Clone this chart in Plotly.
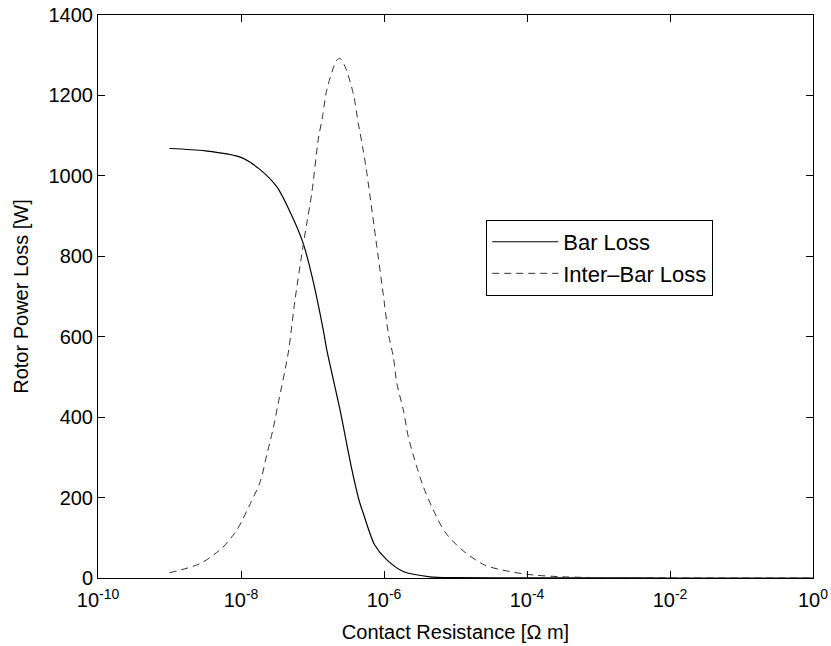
import plotly.graph_objects as go

# Bar loss readings: log10(contact resistance) and power loss [W]
bar_log_r = [-9.0, -8.5, -8.0, -7.75, -7.5, -7.3, -7.13, -7.0, -6.85, -6.8, -6.615,
             -6.45, -6.35, -6.29, -6.13, -5.96, -5.73, -5.36, -5.0, -4.0, -3.0, -2.0, -1.0, 0.0]
bar_loss = [1068, 1062, 1046, 1018, 973, 905, 832, 745, 617, 567, 418,
            270, 194, 161, 82, 45, 16, 3, 1, 0.3, 0.1, 0.05, 0.02, 0.01]

# Inter-bar loss readings
inter_log_r = [-9.0, -8.57, -8.27, -8.06, -7.87, -7.73, -7.64, -7.55, -7.48, -7.34, -7.245,
               -7.13, -7.08, -7.01, -6.92, -6.86, -6.80, -6.66, -6.615, -6.545, -6.43, -6.36,
               -6.30, -6.25, -6.12, -6.0, -5.94, -5.87, -5.82, -5.73, -5.66, -5.57, -5.45,
               -5.31, -5.15, -4.91, -4.59, -4.24, -3.91, -3.5, -3.0, -2.0, -1.0, 0.0]
inter_loss = [13, 36, 74, 119, 185, 240, 306, 372, 434, 559, 691,
              828, 882, 957, 1090, 1147, 1214, 1288, 1292, 1272, 1205, 1131,
              1073, 1019, 850, 691, 609, 550, 484, 418, 351, 293, 227,
              169, 115, 70, 32, 16, 7.5, 3, 1, 0.3, 0.1, 0.05]

x_tick_vals = [1e-10, 1e-8, 1e-6, 1e-4, 1e-2, 1e0]
x_tick_text = ["10<sup>-10</sup>", "10<sup>-8</sup>", "10<sup>-6</sup>",
               "10<sup>-4</sup>", "10<sup>-2</sup>", "10<sup>0</sup>"]
y_tick_vals = [0, 200, 400, 600, 800, 1000, 1200, 1400]

bar_x = [10 ** v for v in bar_log_r]
inter_x = [10 ** v for v in inter_log_r]

fig = go.Figure()
fig.add_trace(go.Scatter(x=bar_x, y=bar_loss, mode="lines", name="Bar Loss",
                         line=dict(color="black", width=1.2, shape="spline", smoothing=0.8)))
fig.add_trace(go.Scatter(x=inter_x, y=inter_loss, mode="lines", name="Inter\u2013Bar Loss",
                         line=dict(color="#333333", width=1, dash="7px,5px",
                                   shape="spline", smoothing=0.8)))

font_family = "Liberation Sans, Arial, sans-serif"
fig.update_layout(
    width=831, height=646,
    margin=dict(l=98, r=18, t=15, b=68),
    paper_bgcolor="white", plot_bgcolor="white",
    font=dict(family=font_family, size=20, color="black"),
    showlegend=True,
    legend=dict(x=0.543, y=0.636, xanchor="left", yanchor="top",
                bordercolor="black", borderwidth=1, bgcolor="white",
                font=dict(size=22), tracegroupgap=0, itemwidth=66),
    xaxis=dict(type="log", range=[-10, 0], tickvals=x_tick_vals, ticktext=x_tick_text,
               ticks="inside", ticklen=7, tickcolor="black", showline=True,
               linecolor="black", linewidth=1, mirror="ticks", showgrid=False,
               zeroline=False, tickfont=dict(size=20), automargin=False,
               ticklabelstandoff=4,
               title=dict(text="Contact Resistance [\u03a9 m]", font=dict(size=20), standoff=14)),
    yaxis=dict(range=[0, 1400], tickvals=y_tick_vals, ticks="inside", ticklen=7,
               tickcolor="black", showline=True, linecolor="black", linewidth=1,
               mirror="ticks", showgrid=False, zeroline=False, tickfont=dict(size=20),
               automargin=False,
               title=dict(text="Rotor Power Loss [W]", font=dict(size=20), standoff=14)),
)

fig.write_html("out.html", config={"displayModeBar": False},
               post_script="document.body.style.margin='0';")
